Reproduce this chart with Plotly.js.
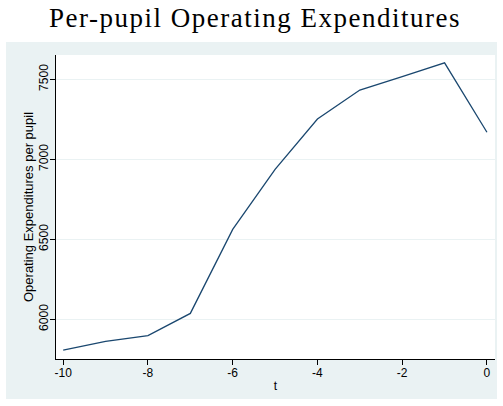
<!DOCTYPE html>
<html>
<head>
<meta charset="utf-8">
<script src="https://cdn.plot.ly/plotly-3.0.1.min.js"></script>
<style>
html,body{margin:0;padding:0;background:#fff;}
#chart{width:503px;height:406px;}
#chart .gtitle{letter-spacing:1.5px;}
</style>
</head>
<body>
<div id="chart"></div>
<script>
var t = [-10, -9, -8, -7, -6, -5, -4, -3, -2, -1, 0];
var expenditures = [5808, 5862, 5898, 6037, 6562, 6937, 7252, 7433, 7517, 7603, 7169];
var xTicks = [-10, -8, -6, -4, -2, 0];
var yTicks = [6000, 6500, 7000, 7500];

var trace = {
  x: t, y: expenditures, type: 'scatter', mode: 'lines',
  line: {color: '#1a476f', width: 1.3}, hoverinfo: 'x+y'
};

var sans = 'Liberation Sans, Arial, sans-serif';

var layout = {
  width: 503, height: 406,
  margin: {l: 56, r: 8, t: 55, b: 47},
  paper_bgcolor: '#ffffff',
  plot_bgcolor: '#ffffff',
  showlegend: false,
  title: {
    text: 'Per-pupil Operating Expenditures',
    font: {family: 'Liberation Serif, serif', size: 27, color: '#000'},
    x: 255 / 503, xref: 'container', xanchor: 'center',
    y: 0.9795, yref: 'container', yanchor: 'top'
  },
  xaxis: {
    range: [-10.17, 0.19],
    tickvals: xTicks, ticktext: xTicks.map(String),
    ticks: 'outside', ticklen: 5, tickcolor: '#000', tickwidth: 1,
    ticklabelstandoff: -2,
    showline: true, linecolor: '#000', linewidth: 1,
    showgrid: false, zeroline: false,
    tickfont: {family: sans, size: 12, color: '#000'},
    title: {text: 't', font: {family: sans, size: 12, color: '#000'}, standoff: 2}
  },
  yaxis: {
    range: [5752, 7652],
    tickvals: yTicks, ticktext: yTicks.map(String),
    tickangle: -90,
    ticks: 'outside', ticklen: 5, tickcolor: '#000', tickwidth: 1,
    ticklabelstandoff: -3,
    showline: true, linecolor: '#000', linewidth: 1,
    showgrid: true, gridcolor: '#eaf2f3', gridwidth: 1,
    zeroline: false,
    tickfont: {family: sans, size: 12, color: '#000'},
    title: {text: 'Operating Expenditures per pupil', font: {family: sans, size: 13, color: '#000'}, standoff: 0}
  },
  shapes: [
    {type: 'rect', xref: 'paper', yref: 'paper', x0: -50/439, x1: 1 + 2/439, y0: -40/304, y1: 1 + 13/304,
     fillcolor: '#eaf2f3', line: {width: 0}, layer: 'below'},
    {type: 'rect', xref: 'paper', yref: 'paper', x0: 0, x1: 1, y0: 0, y1: 1,
     fillcolor: '#ffffff', line: {width: 0}, layer: 'below'}
  ]
};

Plotly.newPlot('chart', [trace], layout, {displayModeBar: false, staticPlot: true});
</script>
</body>
</html>
